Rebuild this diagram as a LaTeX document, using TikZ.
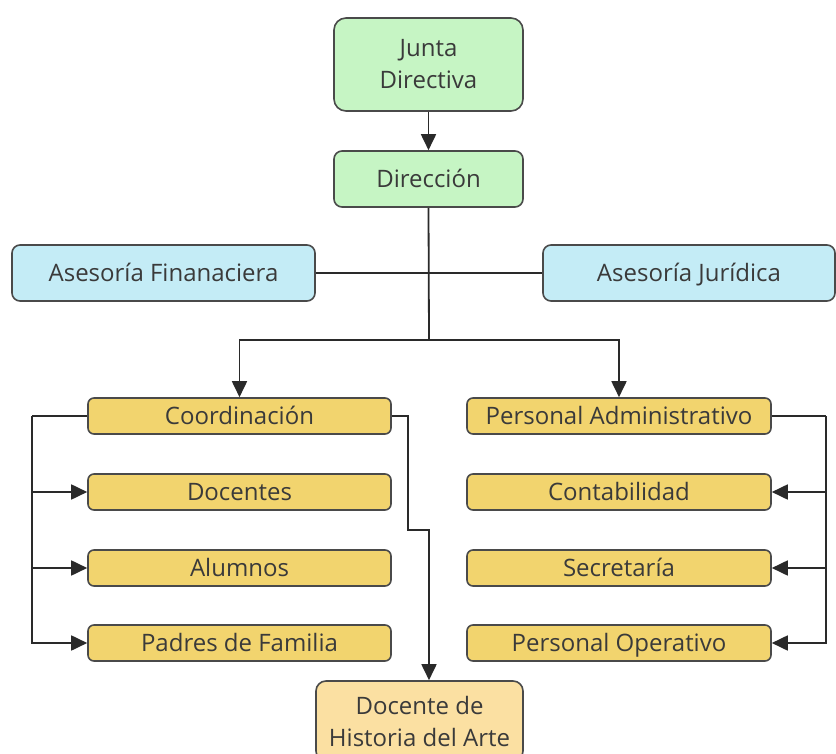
\documentclass[tikz,border=0pt]{standalone}
\usepackage{xcolor}
\usepackage{fontspec}
\setmainfont{Open Sans}
\usepackage{tikz}
\usetikzlibrary{arrows.meta}

\definecolor{verde}{HTML}{C6F5C4}
\definecolor{celeste}{HTML}{C4ECF6}
\definecolor{amarillo}{HTML}{F2D46E}
\definecolor{crema}{HTML}{FBE0A2}
\definecolor{borde}{HTML}{4A4A4A}
\definecolor{texto}{HTML}{3A3A3A}
\definecolor{linea}{HTML}{2A2A2A}

\tikzset{
  caja/.style={draw=borde, line width=1.6pt, rounded corners=6pt, text=texto,
    font=\fontsize{24}{32}\selectfont, inner sep=0pt, align=center},
  una/.style={text height=17pt, text depth=0pt},
  flecha/.style={draw=linea, line width=1.8pt, -{Triangle[length=16pt,width=15pt]}},
  linea/.style={draw=linea, line width=1.8pt}
}

\begin{document}
\begin{tikzpicture}[x=1pt,y=-1pt]
\useasboundingbox (0,0) rectangle (836,754);
% cabeza
\node[caja, fill=verde, minimum width=189pt, minimum height=93pt, rounded corners=12pt] (Junta) at (428.5,64.5) {Junta\\Directiva};
\node[caja, una, fill=verde, minimum width=189pt, minimum height=56pt, rounded corners=8pt] (Direccion) at (428.5,179) {Dirección};
\node[caja, una, fill=celeste, minimum width=303pt, minimum height=56pt, rounded corners=8pt] (AsesFin) at (163.5,273) {Asesoría Finanaciera};
\node[caja, una, fill=celeste, minimum width=292pt, minimum height=56pt, rounded corners=8pt] (AsesJur) at (689,273) {Asesoría Jurídica};
\draw[flecha] (Junta) -- (Direccion);
\draw[linea] (AsesFin.east) -- (AsesJur.west);
\coordinate (ramal) at (429,340);
\draw[linea] (Direccion.south) -- (ramal);
% ramas
\node[caja, una, fill=amarillo, minimum width=303pt, minimum height=36pt] (Coordinacion) at (239.5,416) {Coordinación};
\node[caja, una, fill=amarillo, minimum width=304pt, minimum height=36pt] (PersAdmin) at (619,416) {Personal Administrativo};
\draw[flecha] (ramal) -| (Coordinacion.north);
\draw[flecha] (ramal) -| (PersAdmin.north);
\coordinate (busL) at (32,416);
\coordinate (busR) at (826,416);
\draw[linea] (Coordinacion.west) -- (busL);
\draw[linea] (PersAdmin.east) -- (busR);
\foreach \y/\izq/\tizq/\der/\tder in {492/Docentes/Docentes/Contabilidad/Contabilidad,
    568/Alumnos/Alumnos/Secretaria/Secretaría,
    643/Padres/Padres de Familia/PersOper/Personal Operativo}{
  \node[caja, una, fill=amarillo, minimum width=303pt, minimum height=36pt] (\izq) at (239.5,\y) {\tizq};
  \node[caja, una, fill=amarillo, minimum width=304pt, minimum height=36pt] (\der) at (619,\y) {\tder};
  \draw[flecha] (busL) |- (\izq.west);
  \draw[flecha] (busR) |- (\der.east);
}
% docente
\node[caja, fill=crema, minimum width=207pt, minimum height=80pt, rounded corners=10pt] (Historia) at (419.5,721) {Docente de\\Historia del Arte};
\coordinate (quiebre) at (429,530);
\draw[flecha] (Coordinacion.east) -| (408,530) -- (quiebre) -- (quiebre |- Historia.north);
\end{tikzpicture}
\end{document}
